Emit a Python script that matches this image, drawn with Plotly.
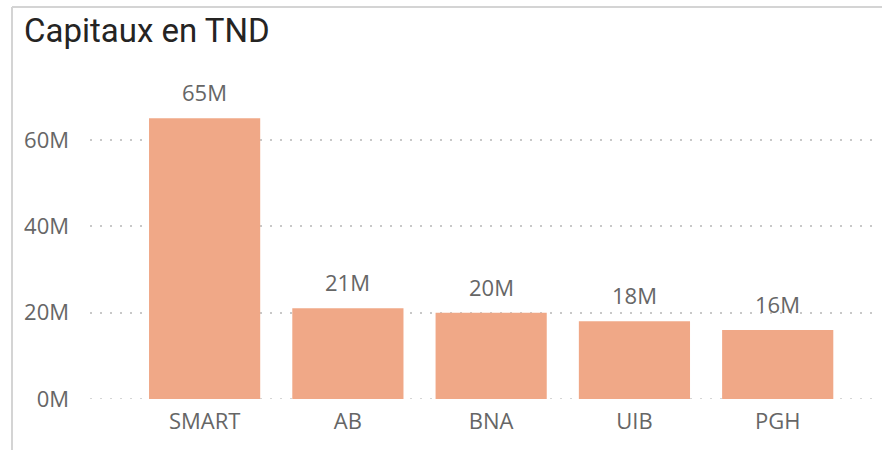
import plotly.graph_objects as go

categories = ["SMART", "AB", "BNA", "UIB", "PGH"]
values = [65, 21, 20, 18, 16]  # millions TND
value_labels = ["65M", "21M", "20M", "18M", "16M"]
y_ticks = [0, 20, 40, 60]
y_tick_labels = ["0M", "20M", "40M", "60M"]

W, H = 882, 450
ML, MR, MT, MB = 90, 4, 60, 51
FONT = "Open Sans"
GRAY = "#666666"

fig = go.Figure()
fig.add_trace(go.Bar(
    x=categories, y=values,
    marker=dict(color="#F0A887", line=dict(width=0)),
    hoverinfo="skip",
))

for c, v, t in zip(categories, values, value_labels):
    fig.add_annotation(x=c, y=v, text=t, showarrow=False, yanchor="bottom",
                       yshift=9, font=dict(family=FONT, size=22, color=GRAY))

pw = W - ML - MR
ph = H - MT - MB
def px_to_paper_x(px):
    return (px - ML) / pw
def py_to_paper_y(py):
    return (H - MB - py) / ph

border = "#d4d4d4"
fig.add_shape(type="line", xref="paper", yref="paper",
              x0=px_to_paper_x(12), x1=px_to_paper_x(884), y0=py_to_paper_y(7), y1=py_to_paper_y(7),
              line=dict(color=border, width=2))
fig.add_shape(type="line", xref="paper", yref="paper",
              x0=px_to_paper_x(12), x1=px_to_paper_x(12), y0=py_to_paper_y(7), y1=py_to_paper_y(452),
              line=dict(color=border, width=2))
# dotted baseline at 0 (plotly hides the edge gridline)
fig.add_shape(type="line", xref="paper", yref="y", x0=0, x1=1, y0=0, y1=0, layer="below",
              line=dict(color="#c8c8c8", width=1.5, dash="2px,8px"))

fig.update_layout(
    width=W, height=H,
    margin=dict(l=ML, r=MR, t=MT, b=MB),
    paper_bgcolor="white", plot_bgcolor="white",
    bargap=0.224,
    showlegend=False,
    title=dict(text="Capitaux en TND", x=24 / W, xanchor="left", y=1 - 30 / H, yanchor="middle",
               font=dict(family="Roboto", size=33, color="#252423")),
    font=dict(family=FONT, size=22, color=GRAY),
)
fig.update_xaxes(range=[-0.80, 4.70], showgrid=False, zeroline=False, showline=False,
                 ticks="outside", ticklen=3, tickcolor="rgba(0,0,0,0)",
                 tickfont=dict(family=FONT, size=22, color=GRAY))
fig.update_yaxes(range=[0, 78.5], tickvals=y_ticks, ticktext=y_tick_labels,
                 showgrid=True, gridcolor="#c8c8c8", griddash="2px,8px", gridwidth=1.5,
                 zeroline=False, showline=False, ticklabelstandoff=20,
                 tickfont=dict(family=FONT, size=22, color=GRAY))

fig.write_html("out.html", config={"displayModeBar": False},
               post_script="document.body.style.margin='0';")
